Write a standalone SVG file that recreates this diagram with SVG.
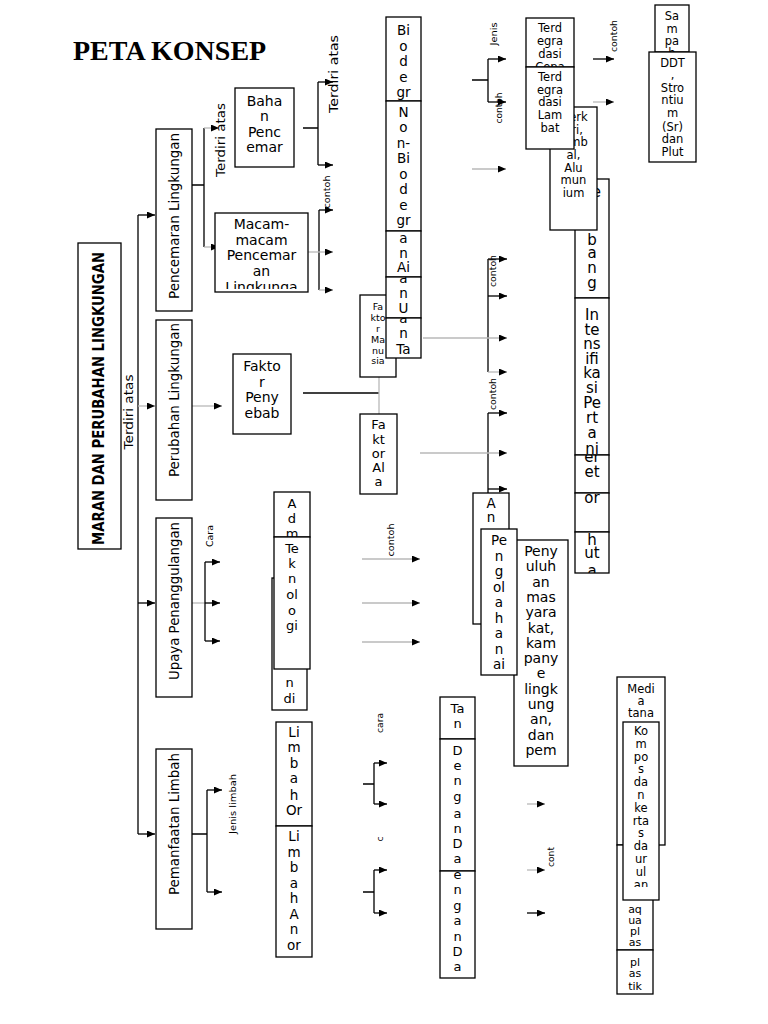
<svg xmlns="http://www.w3.org/2000/svg" width="768" height="1024" viewBox="0 0 768 1024">
<style>
.b{fill:#fff;stroke:#000;stroke-width:1.3}
.t{font-family:"DejaVu Sans","Liberation Sans",sans-serif;fill:#000;text-anchor:middle}
.k{stroke:#000;stroke-width:1.3;fill:none}
.g{stroke:#b8b8b8;stroke-width:1.3;fill:none}
.a{marker-end:url(#ah)}
</style>
<defs>
<marker id="ah" viewBox="0 0 10 10" refX="10" refY="5" markerWidth="8" markerHeight="7" markerUnits="userSpaceOnUse" orient="auto" preserveAspectRatio="none"><path d="M0,0L10,5L0,10z" fill="#000"/></marker>
<clipPath id="c-macam"><rect x="215" y="213" width="93" height="76"/></clipPath>
<clipPath id="c-bio1"><rect x="386" y="17" width="35" height="84"/></clipPath>
<clipPath id="c-bio2"><rect x="386" y="101" width="35" height="130"/></clipPath>
<clipPath id="c-bio3"><rect x="386" y="231" width="35" height="46"/></clipPath>
<clipPath id="c-bio4"><rect x="386" y="277" width="35" height="41"/></clipPath>
<clipPath id="c-bio5"><rect x="386" y="318" width="35" height="40"/></clipPath>
<clipPath id="c-terdc"><rect x="526" y="18" width="48" height="49"/></clipPath>
<clipPath id="c-colA"><rect x="575" y="179" width="34" height="119"/></clipPath>
<clipPath id="c-colB"><rect x="575" y="298" width="34" height="157"/></clipPath>
<clipPath id="c-colC"><rect x="575" y="455" width="34" height="38"/></clipPath>
<clipPath id="c-colD"><rect x="575" y="493" width="34" height="39"/></clipPath>
<clipPath id="c-colE"><rect x="575" y="532" width="34" height="41"/></clipPath>
<clipPath id="c-sampah"><rect x="655" y="5" width="34" height="47"/></clipPath>
<clipPath id="c-admb"><rect x="272" y="578" width="35" height="132"/></clipPath>
<clipPath id="c-adm"><rect x="274" y="492" width="36" height="45"/></clipPath>
<clipPath id="c-tanpa"><rect x="440" y="697" width="35" height="42"/></clipPath>
<clipPath id="c-deng2"><rect x="440" y="871" width="35" height="107"/></clipPath>
<clipPath id="c-limorg"><rect x="276" y="722" width="36" height="104"/></clipPath>
<clipPath id="c-kompos"><rect x="623" y="722" width="36" height="165"/></clipPath>
<clipPath id="c-aqua"><rect x="617" y="845" width="36" height="102"/></clipPath>
</defs>
<rect width="768" height="1024" fill="#fff"/>

<text x="73" y="60" font-family="'Liberation Serif',serif" font-weight="bold" font-size="28" fill="#000">PETA KONSEP</text>

<g id="connectors">
<path class="k" d="M138,215V834"/>
<path class="k a" d="M138,215H155"/>
<path class="g a" d="M138,406H155"/>
<path class="k a" d="M138,603H155"/>
<path class="k a" d="M138,834H155"/>

<path class="k" d="M192,185H204M204,128V247"/>
<path class="g a" d="M204,128H219"/>
<path class="g a" d="M204,247H219"/>

<path class="k" d="M303,128H318M318,82V165"/>
<path class="k a" d="M318,82H333"/>
<path class="k a" d="M318,165H333"/>

<path class="k" d="M319,210V290"/>
<path class="k a" d="M319,210H333"/>
<path class="g a" d="M308,252H333"/>
<path class="g a" d="M319,290H333"/>

<path class="g a" d="M192,406H222"/>
<path class="k" d="M303,393H379"/>
<path class="g" d="M379,377V414"/>

<path class="k" d="M488,259V372"/>
<path class="k a" d="M488,259H507"/>
<path class="k a" d="M488,296H507"/>
<path class="g a" d="M423,338H507"/>
<path class="g a" d="M488,372H507"/>

<path class="k" d="M488,413V493"/>
<path class="k a" d="M488,413H507"/>
<path class="g a" d="M420,453H507"/>
<path class="k a" d="M488,489H507"/>

<path class="k" d="M472,80H488M488,59V102"/>
<path class="k a" d="M488,59H506"/>
<path class="k a" d="M488,102H506"/>
<path class="g a" d="M472,169H506"/>

<path class="k a" d="M593,59H614"/>
<path class="g a" d="M593,102H614"/>

<path class="g" d="M192,603H205"/>
<path class="k" d="M205,562V641"/>
<path class="k a" d="M205,562H220"/>
<path class="k a" d="M205,603H220"/>
<path class="k a" d="M205,641H220"/>

<path class="g a" d="M362,559H420"/>
<path class="g a" d="M362,603H420"/>
<path class="g a" d="M362,642H420"/>

<path class="k" d="M192,834H207M207,790V892"/>
<path class="k a" d="M207,790H222"/>
<path class="k a" d="M207,892H222"/>

<path class="k" d="M363,784H374M374,763V804"/>
<path class="k a" d="M374,763H387"/>
<path class="k a" d="M374,804H387"/>
<path class="k" d="M363,892H374M374,870V913"/>
<path class="k a" d="M374,870H387"/>
<path class="k a" d="M374,913H387"/>

<path class="g a" d="M527,804H545"/>
<path class="g a" d="M527,870H545"/>
<path class="k a" d="M527,913H545"/>

<g class="t">
<text font-size="13" transform="translate(128,412) rotate(-90)" dy="0.35em" textLength="75" lengthAdjust="spacingAndGlyphs">Terdiri atas</text>
<text font-size="13" transform="translate(220,140) rotate(-90)" dy="0.35em" textLength="74" lengthAdjust="spacingAndGlyphs">Terdiri atas</text>
<text font-size="13" transform="translate(333,74) rotate(-90)" dy="0.35em" textLength="78" lengthAdjust="spacingAndGlyphs">Terdiri atas</text>
<text font-size="9" transform="translate(327,192) rotate(-90)" dy="0.35em" textLength="33" lengthAdjust="spacingAndGlyphs">contoh</text>
<text font-size="9.5" transform="translate(494,34) rotate(-90)" dy="0.35em" textLength="23" lengthAdjust="spacingAndGlyphs">Jenis</text>
<text font-size="9" transform="translate(499,108) rotate(-90)" dy="0.35em" textLength="31" lengthAdjust="spacingAndGlyphs">contoh</text>
<text font-size="9" transform="translate(614,36) rotate(-90)" dy="0.35em" textLength="32" lengthAdjust="spacingAndGlyphs">contoh</text>
<text font-size="9" transform="translate(493,271) rotate(-90)" dy="0.35em" textLength="32" lengthAdjust="spacingAndGlyphs">contoh</text>
<text font-size="9" transform="translate(493,394) rotate(-90)" dy="0.35em" textLength="32" lengthAdjust="spacingAndGlyphs">contoh</text>
<text font-size="9" transform="translate(391,540) rotate(-90)" dy="0.35em" textLength="33" lengthAdjust="spacingAndGlyphs">contoh</text>
<text font-size="9" transform="translate(210,536) rotate(-90)" dy="0.35em" textLength="22" lengthAdjust="spacingAndGlyphs">Cara</text>
<text font-size="9.5" transform="translate(233,804) rotate(-90)" dy="0.35em" textLength="60" lengthAdjust="spacingAndGlyphs">Jenis limbah</text>
<text font-size="9" transform="translate(380,723) rotate(-90)" dy="0.35em" textLength="20" lengthAdjust="spacingAndGlyphs">cara</text>
<text font-size="9" transform="translate(380,839) rotate(-90)" dy="0.35em">c</text>
<text font-size="9" transform="translate(551,857) rotate(-90)" dy="0.35em" textLength="20" lengthAdjust="spacingAndGlyphs">cont</text>
</g>
</g>

<g id="n-main"><rect class="b" x="78" y="243" width="43" height="306"/>
<text class="t" font-size="15" font-weight="bold" transform="translate(99,398.5) rotate(-90)" dy="0.35em" textLength="293" lengthAdjust="spacingAndGlyphs">MARAN DAN PERUBAHAN LINGKUNGAN</text></g>

<g id="n-pencemaran"><rect class="b" x="156" y="129" width="36" height="182"/>
<text class="t" font-size="13.5" transform="translate(174,216) rotate(-90)" dy="0.35em" textLength="166" lengthAdjust="spacingAndGlyphs">Pencemaran Lingkungan</text></g>
<g id="n-perubahan"><rect class="b" x="156" y="320" width="36" height="180"/>
<text class="t" font-size="13.5" transform="translate(174,400) rotate(-90)" dy="0.35em" textLength="154" lengthAdjust="spacingAndGlyphs">Perubahan Lingkungan</text></g>
<g id="n-upaya"><rect class="b" x="156" y="518" width="36" height="179"/>
<text class="t" font-size="13.5" transform="translate(174,601) rotate(-90)" dy="0.35em" textLength="158" lengthAdjust="spacingAndGlyphs">Upaya Penanggulangan</text></g>
<g id="n-pemanfaatan"><rect class="b" x="156" y="749" width="36" height="180"/>
<text class="t" font-size="13.5" transform="translate(174,824) rotate(-90)" dy="0.35em" textLength="142" lengthAdjust="spacingAndGlyphs">Pemanfaatan Limbah</text></g>

<g id="n-bahan"><rect class="b" x="235" y="88" width="59" height="79"/>
<text class="t" font-size="14"><tspan x="264.5" y="106">Baha</tspan><tspan x="264.5" y="121">n</tspan><tspan x="264.5" y="137">Penc</tspan><tspan x="264.5" y="152">emar</tspan></text></g>

<g id="n-macam"><rect class="b" x="215" y="213" width="93" height="79"/>
<text class="t" font-size="14" clip-path="url(#c-macam)"><tspan x="261.5" y="229">Macam-</tspan><tspan x="261.5" y="245">macam</tspan><tspan x="261.5" y="260">Pencemar</tspan><tspan x="261.5" y="276">an</tspan><tspan x="261.5" y="292">Lingkunga</tspan></text></g>

<g id="n-penyebab"><rect class="b" x="233" y="354" width="58" height="80"/>
<text class="t" font-size="14"><tspan x="262" y="371">Fakto</tspan><tspan x="262" y="387">r</tspan><tspan x="262" y="402">Peny</tspan><tspan x="262" y="418">ebab</tspan></text></g>

<g id="n-manusia"><rect class="b" x="360" y="295" width="36" height="82"/>
<text class="t" font-size="9.5"><tspan x="378" y="310">Fa</tspan><tspan x="378" y="321">kto</tspan><tspan x="378" y="332">r</tspan><tspan x="378" y="343">Ma</tspan><tspan x="378" y="354">nu</tspan><tspan x="378" y="364">sia</tspan></text></g>

<g id="n-bio1"><rect class="b" x="386" y="17" width="35" height="84"/>
<text class="t" font-size="13.5" clip-path="url(#c-bio1)"><tspan x="403.5" y="35">Bi</tspan><tspan x="403.5" y="50.5">o</tspan><tspan x="403.5" y="66">d</tspan><tspan x="403.5" y="81.5">e</tspan><tspan x="403.5" y="97">gr</tspan></text></g>
<g id="n-bio2"><rect class="b" x="386" y="101" width="35" height="130"/>
<text class="t" font-size="13.5" clip-path="url(#c-bio2)"><tspan x="403.5" y="117">N</tspan><tspan x="403.5" y="132">o</tspan><tspan x="403.5" y="148">n-</tspan><tspan x="403.5" y="163">Bi</tspan><tspan x="403.5" y="179">o</tspan><tspan x="403.5" y="194">d</tspan><tspan x="403.5" y="210">e</tspan><tspan x="403.5" y="225">gr</tspan></text></g>
<g id="n-bio3"><rect class="b" x="386" y="231" width="35" height="46"/>
<text class="t" font-size="13.5" clip-path="url(#c-bio3)"><tspan x="403.5" y="243">a</tspan><tspan x="403.5" y="258">n</tspan><tspan x="403.5" y="272">Ai</tspan></text></g>
<g id="n-bio4"><rect class="b" x="386" y="277" width="35" height="41"/>
<text class="t" font-size="13.5" clip-path="url(#c-bio4)"><tspan x="403.5" y="283">a</tspan><tspan x="403.5" y="298">n</tspan><tspan x="403.5" y="313">U</tspan></text></g>
<g id="n-bio5"><rect class="b" x="386" y="318" width="35" height="40"/>
<text class="t" font-size="13.5" clip-path="url(#c-bio5)"><tspan x="403.5" y="323">a</tspan><tspan x="403.5" y="338">n</tspan><tspan x="403.5" y="354">Ta</tspan></text></g>

<g id="n-alam"><rect class="b" x="360" y="414" width="37" height="80"/>
<text class="t" font-size="13"><tspan x="378.5" y="429">Fa</tspan><tspan x="378.5" y="444">kt</tspan><tspan x="378.5" y="458">or</tspan><tspan x="378.5" y="472">Al</tspan><tspan x="378.5" y="486">a</tspan></text></g>

<g id="n-colA"><rect class="b" x="575" y="179" width="34" height="119"/>
<text class="t" font-size="15" clip-path="url(#c-colA)"><tspan x="592" y="197">Pe</tspan><tspan x="592" y="245">b</tspan><tspan x="592" y="258">a</tspan><tspan x="592" y="273">n</tspan><tspan x="592" y="288">g</tspan></text></g>
<g id="n-colB"><rect class="b" x="575" y="298" width="34" height="157"/>
<text class="t" font-size="15" clip-path="url(#c-colB)"><tspan x="592" y="320">In</tspan><tspan x="592" y="335">te</tspan><tspan x="592" y="349">ns</tspan><tspan x="592" y="364">ifi</tspan><tspan x="592" y="378">ka</tspan><tspan x="592" y="393">si</tspan><tspan x="592" y="408">Pe</tspan><tspan x="592" y="423">rt</tspan><tspan x="592" y="438">a</tspan><tspan x="592" y="454">ni</tspan></text></g>
<g id="n-colC"><rect class="b" x="575" y="455" width="34" height="38"/>
<text class="t" font-size="15" clip-path="url(#c-colC)"><tspan x="592" y="462">er</tspan><tspan x="592" y="477">et</tspan></text></g>
<g id="n-colD"><rect class="b" x="575" y="493" width="34" height="39"/>
<text class="t" font-size="15" clip-path="url(#c-colD)"><tspan x="592" y="503">or</tspan></text></g>
<g id="n-colE"><rect class="b" x="575" y="532" width="34" height="41"/>
<text class="t" font-size="15" clip-path="url(#c-colE)"><tspan x="592" y="545">h</tspan><tspan x="592" y="558">ut</tspan><tspan x="592" y="576">a</tspan></text></g>

<g id="n-merkuri"><rect class="b" x="550" y="107" width="47" height="123"/>
<text class="t" font-size="11.5"><tspan x="573.5" y="121">Merk</tspan><tspan x="573.5" y="134">uri,</tspan><tspan x="573.5" y="146">Timb</tspan><tspan x="573.5" y="159">al,</tspan><tspan x="573.5" y="172">Alu</tspan><tspan x="573.5" y="184">mun</tspan><tspan x="573.5" y="197">ium</tspan></text></g>

<g id="n-terd-cepat"><rect class="b" x="526" y="18" width="48" height="49"/>
<text class="t" font-size="11.5" clip-path="url(#c-terdc)"><tspan x="550" y="32">Terd</tspan><tspan x="550" y="45">egra</tspan><tspan x="550" y="58">dasi</tspan><tspan x="550" y="71">Cepa</tspan></text></g>
<g id="n-terd-lambat"><rect class="b" x="526" y="67" width="48" height="82"/>
<text class="t" font-size="11.5"><tspan x="550" y="81">Terd</tspan><tspan x="550" y="94">egra</tspan><tspan x="550" y="106">dasi</tspan><tspan x="550" y="119">Lam</tspan><tspan x="550" y="132">bat</tspan></text></g>

<g id="n-sampah"><rect class="b" x="655" y="5" width="34" height="47"/>
<text class="t" font-size="11.5" clip-path="url(#c-sampah)"><tspan x="672" y="20">Sa</tspan><tspan x="672" y="33">m</tspan><tspan x="672" y="45">pa</tspan><tspan x="672" y="57">h</tspan></text></g>
<g id="n-ddt"><rect class="b" x="649" y="52" width="47" height="110"/>
<text class="t" font-size="11.5"><tspan x="672.5" y="67">DDT</tspan><tspan x="672.5" y="79">,</tspan><tspan x="672.5" y="92">Stro</tspan><tspan x="672.5" y="104">ntiu</tspan><tspan x="672.5" y="117">m</tspan><tspan x="672.5" y="131">(Sr)</tspan><tspan x="672.5" y="143">dan</tspan><tspan x="672.5" y="156">Plut</tspan></text></g>

<g id="n-pendidikan"><rect class="b" x="272" y="578" width="35" height="132"/>
<text class="t" font-size="13" clip-path="url(#c-admb)"><tspan x="289.5" y="687">n</tspan><tspan x="289.5" y="703">di</tspan></text></g>
<g id="n-adm"><rect class="b" x="274" y="492" width="36" height="45"/>
<text class="t" font-size="13" clip-path="url(#c-adm)"><tspan x="292" y="508">A</tspan><tspan x="292" y="523">d</tspan><tspan x="292" y="538">m</tspan></text></g>
<g id="n-tekno"><rect class="b" x="274" y="537" width="36" height="132"/>
<text class="t" font-size="13"><tspan x="292" y="553">Te</tspan><tspan x="292" y="568">k</tspan><tspan x="292" y="583">n</tspan><tspan x="292" y="599">ol</tspan><tspan x="292" y="615">o</tspan><tspan x="292" y="630">gi</tspan></text></g>

<g id="n-analisis"><rect class="b" x="473" y="493" width="36" height="131"/>
<text class="t" font-size="13.5"><tspan x="491" y="508">A</tspan><tspan x="491" y="522">n</tspan></text></g>
<g id="n-penyuluhan"><rect class="b" x="514" y="540" width="54" height="226"/>
<text class="t" font-size="14"><tspan x="541" y="556">Peny</tspan><tspan x="541" y="571.3">uluh</tspan><tspan x="541" y="586.6">an</tspan><tspan x="541" y="601.9">mas</tspan><tspan x="541" y="617.2">yara</tspan><tspan x="541" y="632.5">kat,</tspan><tspan x="541" y="647.8">kam</tspan><tspan x="541" y="663.1">pany</tspan><tspan x="541" y="678.4">e</tspan><tspan x="541" y="693.7">lingk</tspan><tspan x="541" y="709">ung</tspan><tspan x="541" y="724.3">an,</tspan><tspan x="541" y="739.6">dan</tspan><tspan x="541" y="754.9">pem</tspan></text></g>
<g id="n-pengolahan"><rect class="b" x="481" y="529" width="36" height="146"/>
<text class="t" font-size="13.5"><tspan x="499" y="545">Pe</tspan><tspan x="499" y="560.5">n</tspan><tspan x="499" y="576">g</tspan><tspan x="499" y="591.5">ol</tspan><tspan x="499" y="607">a</tspan><tspan x="499" y="622.5">h</tspan><tspan x="499" y="638">a</tspan><tspan x="499" y="653.5">n</tspan><tspan x="499" y="669">ai</tspan></text></g>

<g id="n-limbah-organik"><rect class="b" x="276" y="722" width="36" height="104"/>
<text class="t" font-size="13.5" clip-path="url(#c-limorg)"><tspan x="294" y="737">Li</tspan><tspan x="294" y="752">m</tspan><tspan x="294" y="768">b</tspan><tspan x="294" y="783">a</tspan><tspan x="294" y="800">h</tspan><tspan x="294" y="815">Or</tspan></text></g>
<g id="n-limbah-anorganik"><rect class="b" x="276" y="826" width="36" height="131"/>
<text class="t" font-size="13.5"><tspan x="294" y="841">Li</tspan><tspan x="294" y="856.5">m</tspan><tspan x="294" y="872">b</tspan><tspan x="294" y="887.5">a</tspan><tspan x="294" y="903">h</tspan><tspan x="294" y="918.5">A</tspan><tspan x="294" y="934">n</tspan><tspan x="294" y="949.5">or</tspan></text></g>

<g id="n-tanpa"><rect class="b" x="440" y="697" width="35" height="42"/>
<text class="t" font-size="13" clip-path="url(#c-tanpa)"><tspan x="457.5" y="713">Ta</tspan><tspan x="457.5" y="728">n</tspan></text></g>
<g id="n-dengan1"><rect class="b" x="440" y="739" width="35" height="132"/>
<text class="t" font-size="13"><tspan x="457.5" y="755">D</tspan><tspan x="457.5" y="770">e</tspan><tspan x="457.5" y="785">n</tspan><tspan x="457.5" y="801">g</tspan><tspan x="457.5" y="818">a</tspan><tspan x="457.5" y="833">n</tspan><tspan x="457.5" y="848">D</tspan><tspan x="457.5" y="863">a</tspan></text></g>
<g id="n-dengan2"><rect class="b" x="440" y="871" width="35" height="107"/>
<text class="t" font-size="13" clip-path="url(#c-deng2)"><tspan x="457.5" y="879">e</tspan><tspan x="457.5" y="894">n</tspan><tspan x="457.5" y="909.5">g</tspan><tspan x="457.5" y="925">a</tspan><tspan x="457.5" y="940.5">n</tspan><tspan x="457.5" y="956">D</tspan><tspan x="457.5" y="971">a</tspan></text></g>

<g id="n-media"><rect class="b" x="617" y="677" width="48" height="168"/>
<text class="t" font-size="11.5"><tspan x="641" y="693">Medi</tspan><tspan x="641" y="705">a</tspan><tspan x="641" y="717">tana</tspan></text></g>
<g id="n-aqua"><rect class="b" x="617" y="845" width="36" height="105"/>
<text class="t" font-size="11" clip-path="url(#c-aqua)"><tspan x="635" y="913">aq</tspan><tspan x="635" y="924">ua</tspan><tspan x="635" y="935">pl</tspan><tspan x="635" y="946">as</tspan></text></g>
<g id="n-kompos"><rect class="b" x="623" y="722" width="36" height="178"/>
<text class="t" font-size="11.5" clip-path="url(#c-kompos)"><tspan x="641" y="735">Ko</tspan><tspan x="641" y="747.8">m</tspan><tspan x="641" y="760.6">po</tspan><tspan x="641" y="773.4">s</tspan><tspan x="641" y="786.2">da</tspan><tspan x="641" y="799">n</tspan><tspan x="641" y="811.8">ke</tspan><tspan x="641" y="824.6">rta</tspan><tspan x="641" y="837.4">s</tspan><tspan x="641" y="850.2">da</tspan><tspan x="641" y="863">ur</tspan><tspan x="641" y="875.8">ul</tspan><tspan x="641" y="888.6">an</tspan></text></g>
<g id="n-plastik"><rect class="b" x="617" y="950" width="36" height="44"/>
<text class="t" font-size="11"><tspan x="635" y="966">pl</tspan><tspan x="635" y="977">as</tspan><tspan x="635" y="990">tik</tspan></text></g>
</svg>
